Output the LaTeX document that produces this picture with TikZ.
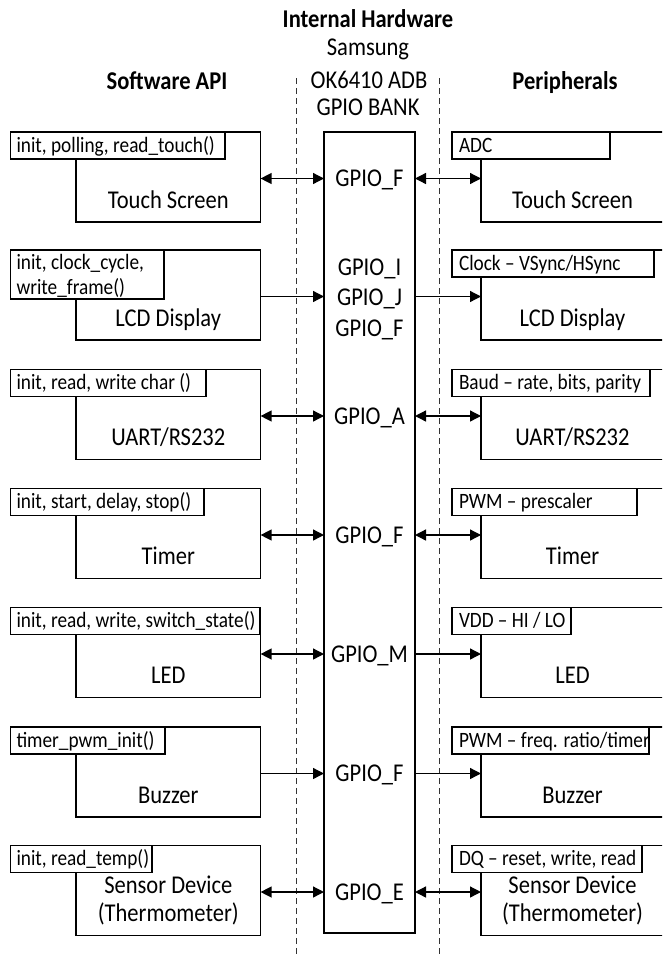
\documentclass[tikz,border=0pt]{standalone}
\usepackage{fontspec}
\setmainfont{Carlito}[FakeStretch=0.88]
\usetikzlibrary{arrows.meta}
\newcommand{\lblfont}{\fontsize{25.6pt}{28pt}\selectfont}
\newcommand{\tabfont}{\fontsize{21.9pt}{26pt}\selectfont}
\begin{document}
\begin{tikzpicture}[x=1pt,y=-1pt,
  >={Triangle[length=11pt,width=11pt]},
  every node/.style={inner sep=0pt, outer sep=0pt},
  lbl/.style={font=\lblfont, anchor=base},
  hdr/.style={font=\lblfont\bfseries, anchor=base},
  box/.style={draw, line width=1.3pt, anchor=north west, minimum height=90pt},
  lbox/.style={box, minimum width=184.6pt},
  rbox/.style={box, minimum width=183pt},
  tabbase/.style={draw, fill=white, line width=1.3pt, anchor=north west, minimum height=27pt, inner ysep=0pt, font=\tabfont, align=flush left, text height=16.5pt, text depth=3.5pt},
  ltab/.style={tabbase, inner xsep=6pt},
  rtab/.style={tabbase, inner xsep=7pt},
  tabtxt/.style={font=\tabfont, anchor=base west},
  bankbox/.style={draw, line width=1.3pt, anchor=north west, minimum width=91pt, minimum height=801pt},
  divider/.style={line width=1pt, black!80, dash pattern=on 6pt off 4pt},
  conn/.style={line width=1.3pt, ->},
  dconn/.style={line width=1.3pt, <->}
]
\useasboundingbox (0,0) rectangle (662,956);
\clip (0,0) rectangle (662,956);

% headers
\node[hdr] (ih) at (368,27) {Internal Hardware};
\node[lbl] (sam) at (368,55.5) {Samsung};
\node[lbl] (ok) at (369,88) {OK6410 ADB};
\node[lbl] (gb) at (368,115.5) {GPIO BANK};
\node[hdr] (sw) at (167,89) {Software API};
\node[hdr] (per) at (565,89) {Peripherals};

% dividers
\coordinate (d1t) at (296,78);
\coordinate (d1b) at (296,956);
\coordinate (d2t) at (439,78);
\coordinate (d2b) at (439,956);
\draw[divider] (d1t) -- (d1b);
\draw[divider] (d2t) -- (d2b);

% GPIO bank
\node[bankbox] (bank) at (324,132) {};

% ---------- Row 1 ----------
\node[lbox] (lb1) at (76,132) {};
\node[ltab, text width=202.5pt] (lt1) at (10.5,132) {\mbox{init, polling, read\_touch()}};
\node[lbl] (ll1) at (168.3,208) {Touch Screen};
\node[rbox] (rb1) at (481,132) {};
\node[rtab, text width=144pt] (rt1) at (452,132) {\mbox{ADC}};
\node[lbl] (rl1) at (572.5,208) {Touch Screen};
\node[lbl] (g1) at (369.5,186.7) {GPIO\_F};
\coordinate (a1) at ([yshift=-1.5pt]lb1.east);
\coordinate (b1) at ([yshift=-1.5pt]rb1.west);
\draw[dconn] (a1) -- (a1 -| bank.west);
\draw[dconn] (bank.east |- b1) -- (b1);

% ---------- Row 2 ----------
\node[lbox] (lb2) at (76,250) {};
\node[draw, fill=white, line width=1.3pt, anchor=north west, minimum width=153.5pt, minimum height=49pt] (lt2) at (10.5,250) {};
\node[tabtxt] (lt2a) at (16.5,269.5) {init, clock\_cycle,};
\node[tabtxt] (lt2b) at (16.5,294) {write\_frame()};
\node[lbl] (ll2) at (168.3,326) {LCD Display};
\node[rbox] (rb2) at (481,250) {};
\node[rtab, text width=188pt] (rt2) at (452,250) {\mbox{Clock – VSync/HSync}};
\node[lbl] (rl2) at (572.5,326) {LCD Display};
\node[lbl] (g2a) at (369.5,275) {GPIO\_I};
\node[lbl] (g2b) at (369.5,305) {GPIO\_J};
\node[lbl] (g2c) at (369.5,336) {GPIO\_F};
\coordinate (a2) at ([yshift=-1.5pt]lb2.east);
\coordinate (b2) at ([yshift=-1.5pt]rb2.west);
\draw[conn] (a2) -- (a2 -| bank.west);
\draw[conn] (bank.east |- b2) -- (b2);

% ---------- Row 3 ----------
\node[lbox] (lb3) at (76,369.5) {};
\node[ltab, text width=183.5pt] (lt3) at (10.5,369.5) {\mbox{init, read, write char ()}};
\node[lbl] (ll3) at (168.3,445.5) {UART/RS232};
\node[rbox] (rb3) at (481,369.5) {};
\node[rtab, text width=184pt] (rt3) at (452,369.5) {\mbox{Baud – rate, bits, parity}};
\node[lbl] (rl3) at (572.5,445.5) {UART/RS232};
\node[lbl] (g3) at (369.5,424.2) {GPIO\_A};
\coordinate (a3) at ([yshift=-1.5pt]lb3.east);
\coordinate (b3) at ([yshift=-1.5pt]rb3.west);
\draw[dconn] (a3) -- (a3 -| bank.west);
\draw[dconn] (bank.east |- b3) -- (b3);

% ---------- Row 4 ----------
\node[lbox] (lb4) at (76,488.5) {};
\node[ltab, text width=181.5pt] (lt4) at (10.5,488.5) {\mbox{init, start, delay, stop()}};
\node[lbl] (ll4) at (168.3,564.5) {Timer};
\node[rbox] (rb4) at (481,488.5) {};
\node[rtab, text width=171pt] (rt4) at (452,488.5) {\mbox{PWM – prescaler}};
\node[lbl] (rl4) at (572.5,564.5) {Timer};
\node[lbl] (g4) at (369.5,543.2) {GPIO\_F};
\coordinate (a4) at ([yshift=-1.5pt]lb4.east);
\coordinate (b4) at ([yshift=-1.5pt]rb4.west);
\draw[dconn] (a4) -- (a4 -| bank.west);
\draw[dconn] (bank.east |- b4) -- (b4);

% ---------- Row 5 ----------
\node[lbox] (lb5) at (76,607.5) {};
\node[ltab, text width=237.5pt] (lt5) at (10.5,607.5) {\mbox{init, read, write, switch\_state()}};
\node[lbl] (ll5) at (168.3,683.5) {LED};
\node[rbox] (rb5) at (481,607.5) {};
\node[rtab, text width=105pt] (rt5) at (452,607.5) {\mbox{VDD – HI / LO}};
\node[lbl] (rl5) at (572.5,683.5) {LED};
\node[lbl] (g5) at (369.5,662.2) {GPIO\_M};
\coordinate (a5) at ([yshift=-1.5pt]lb5.east);
\coordinate (b5) at ([yshift=-1.5pt]rb5.west);
\draw[dconn] (a5) -- (a5 -| bank.west);
\draw[conn] (bank.east |- b5) -- (b5);

% ---------- Row 6 ----------
\node[lbox] (lb6) at (76,727) {};
\node[ltab, text width=142.5pt] (lt6) at (10.5,727) {\mbox{timer\_pwm\_init()}};
\node[lbl] (ll6) at (168.3,803) {Buzzer};
\node[rbox] (rb6) at (481,727) {};
\node[rtab, text width=183pt] (rt6) at (452,727) {\mbox{PWM – freq. ratio/timer}};
\node[lbl] (rl6) at (572.5,803) {Buzzer};
\node[lbl] (g6) at (369.5,781.7) {GPIO\_F};
\coordinate (a6) at ([yshift=-1.5pt]lb6.east);
\coordinate (b6) at ([yshift=-1.5pt]rb6.west);
\draw[conn] (a6) -- (a6 -| bank.west);
\draw[conn] (bank.east |- b6) -- (b6);

% ---------- Row 7 ----------
\node[lbox] (lb7) at (76,845.5) {};
\node[ltab, text width=129.5pt] (lt7) at (10.5,845.5) {\mbox{init, read\_temp()}};
\node[lbl] (ll7a) at (168.3,893.5) {Sensor Device};
\node[lbl] (ll7b) at (168.3,921.5) {(Thermometer)};
\node[rbox] (rb7) at (481,845.5) {};
\node[rtab, text width=176pt] (rt7) at (452,845.5) {\mbox{DQ – reset, write, read}};
\node[lbl] (rl7a) at (572.5,893.5) {Sensor Device};
\node[lbl] (rl7b) at (572.5,921.5) {(Thermometer)};
\node[lbl] (g7) at (369.5,900.2) {GPIO\_E};
\coordinate (a7) at ([yshift=-1.5pt]lb7.east);
\coordinate (b7) at ([yshift=-1.5pt]rb7.west);
\draw[dconn] (a7) -- (a7 -| bank.west);
\draw[dconn] (bank.east |- b7) -- (b7);
\end{tikzpicture}
\end{document}
